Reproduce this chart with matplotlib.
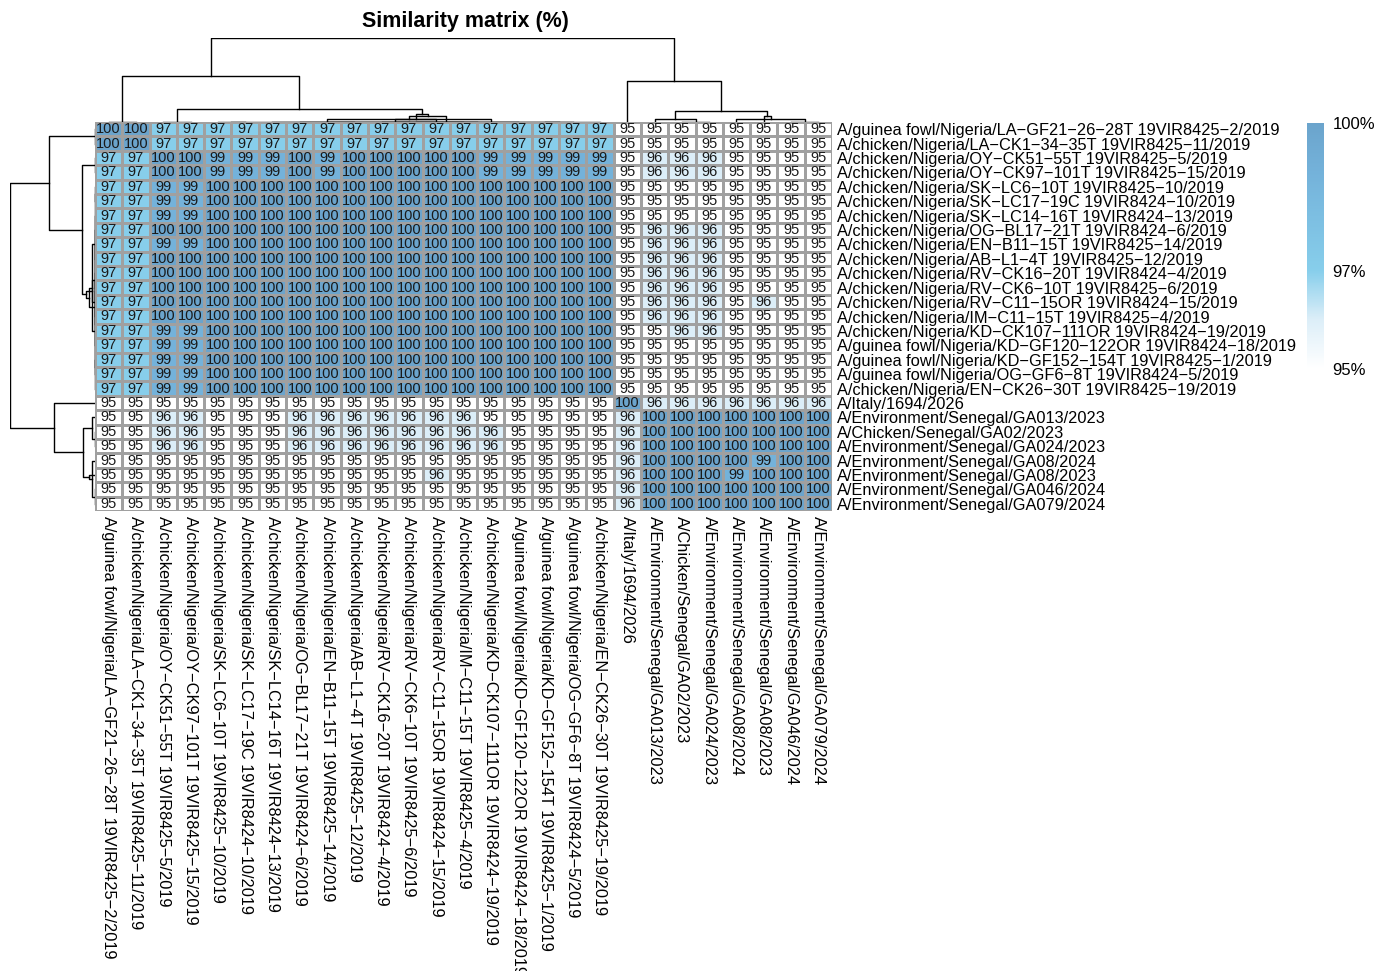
import numpy as np
import matplotlib
matplotlib.use("Agg")
import matplotlib.pyplot as plt
from matplotlib.colors import LinearSegmentedColormap, Normalize
from matplotlib.cm import ScalarMappable

plt.rcParams["font.family"] = ["Liberation Sans", "DejaVu Sans"]

labels = [
    "A/guinea fowl/Nigeria/LA-GF21-26-28T 19VIR8425-2/2019",
    "A/chicken/Nigeria/LA-CK1-34-35T 19VIR8425-11/2019",
    "A/chicken/Nigeria/OY-CK51-55T 19VIR8425-5/2019",
    "A/chicken/Nigeria/OY-CK97-101T 19VIR8425-15/2019",
    "A/chicken/Nigeria/SK-LC6-10T 19VIR8425-10/2019",
    "A/chicken/Nigeria/SK-LC17-19C 19VIR8424-10/2019",
    "A/chicken/Nigeria/SK-LC14-16T 19VIR8424-13/2019",
    "A/chicken/Nigeria/OG-BL17-21T 19VIR8424-6/2019",
    "A/chicken/Nigeria/EN-B11-15T 19VIR8425-14/2019",
    "A/chicken/Nigeria/AB-L1-4T 19VIR8425-12/2019",
    "A/chicken/Nigeria/RV-CK16-20T 19VIR8424-4/2019",
    "A/chicken/Nigeria/RV-CK6-10T 19VIR8425-6/2019",
    "A/chicken/Nigeria/RV-C11-15OR 19VIR8424-15/2019",
    "A/chicken/Nigeria/IM-C11-15T 19VIR8425-4/2019",
    "A/chicken/Nigeria/KD-CK107-111OR 19VIR8424-19/2019",
    "A/guinea fowl/Nigeria/KD-GF120-122OR 19VIR8424-18/2019",
    "A/guinea fowl/Nigeria/KD-GF152-154T 19VIR8425-1/2019",
    "A/guinea fowl/Nigeria/OG-GF6-8T 19VIR8424-5/2019",
    "A/chicken/Nigeria/EN-CK26-30T 19VIR8425-19/2019",
    "A/Italy/1694/2026",
    "A/Environment/Senegal/GA013/2023",
    "A/Chicken/Senegal/GA02/2023",
    "A/Environment/Senegal/GA024/2023",
    "A/Environment/Senegal/GA08/2024",
    "A/Environment/Senegal/GA08/2023",
    "A/Environment/Senegal/GA046/2024",
    "A/Environment/Senegal/GA079/2024",
]

similarity = [
    [100, 100, 97, 97, 97, 97, 97, 97, 97, 97, 97, 97, 97, 97, 97, 97, 97, 97, 97, 95, 95, 95, 95, 95, 95, 95, 95],
    [100, 100, 97, 97, 97, 97, 97, 97, 97, 97, 97, 97, 97, 97, 97, 97, 97, 97, 97, 95, 95, 95, 95, 95, 95, 95, 95],
    [97, 97, 100, 100, 99, 99, 99, 100, 99, 100, 100, 100, 100, 100, 99, 99, 99, 99, 99, 95, 96, 96, 96, 95, 95, 95, 95],
    [97, 97, 100, 100, 99, 99, 99, 100, 99, 100, 100, 100, 100, 100, 99, 99, 99, 99, 99, 95, 96, 96, 96, 95, 95, 95, 95],
    [97, 97, 99, 99, 100, 100, 100, 100, 100, 100, 100, 100, 100, 100, 100, 100, 100, 100, 100, 95, 95, 95, 95, 95, 95, 95, 95],
    [97, 97, 99, 99, 100, 100, 100, 100, 100, 100, 100, 100, 100, 100, 100, 100, 100, 100, 100, 95, 95, 95, 95, 95, 95, 95, 95],
    [97, 97, 99, 99, 100, 100, 100, 100, 100, 100, 100, 100, 100, 100, 100, 100, 100, 100, 100, 95, 95, 95, 95, 95, 95, 95, 95],
    [97, 97, 100, 100, 100, 100, 100, 100, 100, 100, 100, 100, 100, 100, 100, 100, 100, 100, 100, 95, 96, 96, 96, 95, 95, 95, 95],
    [97, 97, 99, 99, 100, 100, 100, 100, 100, 100, 100, 100, 100, 100, 100, 100, 100, 100, 100, 95, 96, 96, 96, 95, 95, 95, 95],
    [97, 97, 100, 100, 100, 100, 100, 100, 100, 100, 100, 100, 100, 100, 100, 100, 100, 100, 100, 95, 96, 96, 96, 95, 95, 95, 95],
    [97, 97, 100, 100, 100, 100, 100, 100, 100, 100, 100, 100, 100, 100, 100, 100, 100, 100, 100, 95, 96, 96, 96, 95, 95, 95, 95],
    [97, 97, 100, 100, 100, 100, 100, 100, 100, 100, 100, 100, 100, 100, 100, 100, 100, 100, 100, 95, 96, 96, 96, 95, 95, 95, 95],
    [97, 97, 100, 100, 100, 100, 100, 100, 100, 100, 100, 100, 100, 100, 100, 100, 100, 100, 100, 95, 96, 96, 96, 95, 96, 95, 95],
    [97, 97, 100, 100, 100, 100, 100, 100, 100, 100, 100, 100, 100, 100, 100, 100, 100, 100, 100, 95, 96, 96, 96, 95, 95, 95, 95],
    [97, 97, 99, 99, 100, 100, 100, 100, 100, 100, 100, 100, 100, 100, 100, 100, 100, 100, 100, 95, 95, 96, 96, 95, 95, 95, 95],
    [97, 97, 99, 99, 100, 100, 100, 100, 100, 100, 100, 100, 100, 100, 100, 100, 100, 100, 100, 95, 95, 95, 95, 95, 95, 95, 95],
    [97, 97, 99, 99, 100, 100, 100, 100, 100, 100, 100, 100, 100, 100, 100, 100, 100, 100, 100, 95, 95, 95, 95, 95, 95, 95, 95],
    [97, 97, 99, 99, 100, 100, 100, 100, 100, 100, 100, 100, 100, 100, 100, 100, 100, 100, 100, 95, 95, 95, 95, 95, 95, 95, 95],
    [97, 97, 99, 99, 100, 100, 100, 100, 100, 100, 100, 100, 100, 100, 100, 100, 100, 100, 100, 95, 95, 95, 95, 95, 95, 95, 95],
    [95, 95, 95, 95, 95, 95, 95, 95, 95, 95, 95, 95, 95, 95, 95, 95, 95, 95, 95, 100, 96, 96, 96, 96, 96, 96, 96],
    [95, 95, 96, 96, 95, 95, 95, 96, 96, 96, 96, 96, 96, 96, 95, 95, 95, 95, 95, 96, 100, 100, 100, 100, 100, 100, 100],
    [95, 95, 96, 96, 95, 95, 95, 96, 96, 96, 96, 96, 96, 96, 96, 95, 95, 95, 95, 96, 100, 100, 100, 100, 100, 100, 100],
    [95, 95, 96, 96, 95, 95, 95, 96, 96, 96, 96, 96, 96, 96, 96, 95, 95, 95, 95, 96, 100, 100, 100, 100, 100, 100, 100],
    [95, 95, 95, 95, 95, 95, 95, 95, 95, 95, 95, 95, 95, 95, 95, 95, 95, 95, 95, 96, 100, 100, 100, 100, 99, 100, 100],
    [95, 95, 95, 95, 95, 95, 95, 95, 95, 95, 95, 95, 96, 95, 95, 95, 95, 95, 95, 96, 100, 100, 100, 99, 100, 100, 100],
    [95, 95, 95, 95, 95, 95, 95, 95, 95, 95, 95, 95, 95, 95, 95, 95, 95, 95, 95, 96, 100, 100, 100, 100, 100, 100, 100],
    [95, 95, 95, 95, 95, 95, 95, 95, 95, 95, 95, 95, 95, 95, 95, 95, 95, 95, 95, 96, 100, 100, 100, 100, 100, 100, 100],
]

cbar_ticks = [95, 97, 100]
cbar_labels = ["95%", "97%", "100%"]

M = np.array(similarity, dtype=float)
n = len(labels)
disp = [s.replace("-", "\u2212") for s in labels]


def complete_linkage(X):
    # plain complete linkage on euclidean distances (like hclust default)
    D = np.sqrt(((X[:, None, :] - X[None, :, :]) ** 2).sum(-1))
    clusters = {i: [i] for i in range(len(X))}
    pos = {i: i + 0.5 for i in range(len(X))}
    hgt = {i: 0.0 for i in range(len(X))}
    merges = []
    nid = len(X)
    while len(clusters) > 1:
        keys = list(clusters)
        best = None
        for a in range(len(keys)):
            for b in range(a + 1, len(keys)):
                d = D[np.ix_(clusters[keys[a]], clusters[keys[b]])].max()
                if best is None or d < best[0] - 1e-9:
                    best = (d, keys[a], keys[b])
        d, ka, kb = best
        merges.append((pos[ka], hgt[ka], pos[kb], hgt[kb], d))
        pos[nid] = (pos[ka] + pos[kb]) / 2
        hgt[nid] = d
        clusters[nid] = clusters.pop(ka) + clusters.pop(kb)
        nid += 1
    return merges


W, H = 1386, 971
fig = plt.figure(figsize=(W / 100, H / 100), dpi=100)


def box(x0, y0, x1, y1):
    return [x0 / W, 1 - y1 / H, (x1 - x0) / W, (y1 - y0) / H]


cmap = LinearSegmentedColormap.from_list(
    "sim",
    [(0.0, "#ffffff"), (0.2, "#dceef8"), (0.4, "#87ceeb"), (0.8, "#74b2da"), (1.0, "#6ba4cc")],
)
norm = Normalize(95, 100)

ax = fig.add_axes(box(95, 122, 832, 511))
ax.pcolormesh(np.arange(n + 1), np.arange(n + 1), M, cmap=cmap, norm=norm,
              edgecolors="#a0a0a0", linewidth=0.9)
ax.set_xlim(0, n)
ax.set_ylim(n, 0)
for i in range(n):
    for j in range(n):
        ax.text(j + 0.5, i + 0.5, f"{M[i, j]:.0f}", ha="center", va="center",
                fontsize=10.5, color="#1a1a1a")
for s in ax.spines.values():
    s.set_visible(False)
ax.yaxis.tick_right()
ax.set_yticks(np.arange(n) + 0.5)
ax.set_yticklabels(disp, fontsize=11.8)
ax.set_xticks(np.arange(n) + 0.5)
ax.set_xticklabels(disp, fontsize=11.8, rotation=270, va="top", ha="center")
ax.tick_params(length=0, pad=3.5)

merges = complete_linkage(M)
top_h = max(m[4] for m in merges)

axt = fig.add_axes(box(95, 38, 832, 122))
for xa, ha, xb, hb, h in merges:
    axt.plot([xa, xa, xb, xb], [ha, h, h, hb], color="black", lw=1.0)
axt.set_xlim(0, n)
axt.set_ylim(0, top_h)
axt.axis("off")

axl = fig.add_axes(box(10, 122, 95, 511))
for ya, ha, yb, hb, h in merges:
    axl.plot([ha, h, h, hb], [ya, ya, yb, yb], color="black", lw=1.0)
axl.set_ylim(n, 0)
axl.set_xlim(top_h, 0)
axl.axis("off")

cax = fig.add_axes(box(1307, 123, 1324, 369))
cb = fig.colorbar(ScalarMappable(norm=norm, cmap=cmap), cax=cax, ticks=cbar_ticks)
cb.set_ticklabels(cbar_labels)
cb.outline.set_visible(False)
cax.tick_params(length=0, labelsize=12, pad=6)

fig.text(465 / W, 1 - 22 / H, "Similarity matrix (%)", ha="center", va="center",
         fontsize=15.5, fontweight="bold")

fig.savefig("out.png", dpi=100)
